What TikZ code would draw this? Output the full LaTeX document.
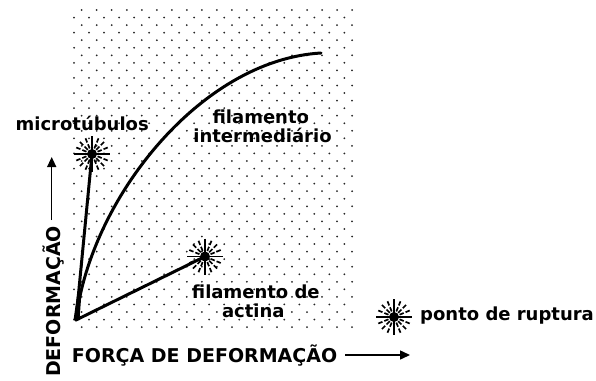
\documentclass[tikz,border=0pt]{standalone}
\usepackage{fontspec}
\setmainfont{DejaVu Sans}
\usetikzlibrary{arrows.meta}
\begin{document}
\begin{tikzpicture}[x=1pt,y=-1pt,
  lbl/.style={inner sep=0pt,font=\fontsize{18}{18}\selectfont\bfseries},
  axlbl/.style={inner sep=0pt,font=\fontsize{19}{19}\selectfont\bfseries},
  fib/.style={line width=3pt,line cap=round,line join=round},
  axarrow/.style={line width=1.5pt,-{Triangle[length=10pt,width=9pt]}},
  burst/.pic={
    \fill (0,0) circle (5);
    \draw[line width=1.8pt] (-18,0)--(18,0) (0,-18)--(0,18);
    \foreach \a in {22.5,45,67.5,112.5,135,157.5,202.5,225,247.5,292.5,315,337.5}
      {\draw[line width=1.7pt] (\a:6)--(\a:10.5) (\a:12.5)--(\a:17);}
  }]
\useasboundingbox (0,0) rectangle (596,380);
\fill[white] (0,0) rectangle (596,380);
% dotted field
\foreach \j in {0,...,42}{
  \pgfmathsetmacro{\yy}{10+\j*7.55}
  \pgfmathsetmacro{\xo}{isodd(\j) ? 74 : 81.7}
  \foreach \k in {0,...,18}{
    \fill[black!85] ({\xo+\k*15.02},\yy) circle (1);
  }
}
% key points
\coordinate (O) at (76,320);
\coordinate (M) at (92,154);
\coordinate (A) at (205,256.5);
\coordinate (I) at (321,53);
\coordinate (L) at (394,317);
% microtubules
\draw[fib] (O) -- (M);
\fill (73.5,320) -- (79.5,320) -- (81.5,292) -- (77.5,292) -- cycle;
% actin
\draw[fib] (O) -- (A);
% intermediate filament
\draw[fib] (O) .. controls (90,200) and (200,60) .. (I);
% rupture points
\pic at (M) {burst};
\pic at (A) {burst};
\pic at (L) {burst};
% labels
\node[lbl,anchor=base] (mt) at (82.2,130.7) {microtúbulos};
\node[lbl,anchor=base] (fi1) at (260.8,123.3) {filamento};
\node[lbl,anchor=base] (fi2) at (262.5,142.7) {intermediário};
\node[lbl,anchor=base] (fa1) at (255.8,298.7) {filamento de};
\node[lbl,anchor=base] (fa2) at (253.3,317.3) {actina};
\node[lbl,anchor=base west] (pr) at (420,320) {ponto de ruptura};
\node[axlbl,anchor=base west] (fx) at (71.7,362.7) {FORÇA DE DEFORMAÇÃO};
\node[axlbl,anchor=base west,rotate=90] (fy) at (60,377) {DEFORMAÇÃO};
% axis arrows
\coordinate (va) at (51.7,220);
\coordinate (vb) at (51.7,157);
\coordinate (ha) at (345,355);
\coordinate (hb) at (410,355);
\draw[axarrow] (va) -- (vb);
\draw[axarrow] (ha) -- (hb);
\end{tikzpicture}
\end{document}
